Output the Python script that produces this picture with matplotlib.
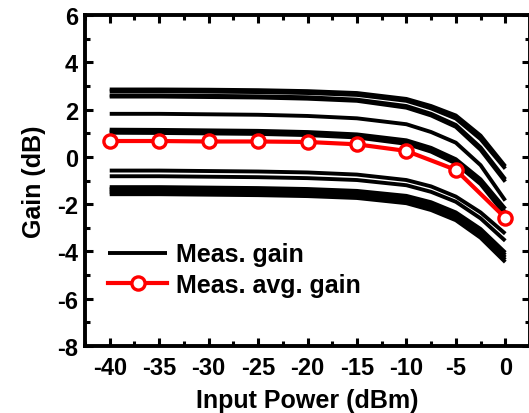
import matplotlib
matplotlib.use("Agg")
import matplotlib.pyplot as plt
from matplotlib.ticker import MultipleLocator

plt.rcParams['font.family'] = ['Liberation Sans', 'DejaVu Sans']
plt.rcParams['font.weight'] = 'bold'

# Input power sweep (dBm) for the individual measured gain curves
power = [-40, -35, -30, -25, -20, -15, -10, -7.5, -5, -2.5, 0]

# Measured gain (dB) of each channel
gain_curves = [
    [2.85, 2.85, 2.84, 2.82, 2.78, 2.70, 2.45, 2.15, 1.75, 0.90, -0.40],
    [2.78, 2.78, 2.76, 2.74, 2.70, 2.62, 2.37, 2.05, 1.62, 0.75, -0.50],
    [2.60, 2.60, 2.58, 2.56, 2.52, 2.42, 2.15, 1.82, 1.35, 0.40, -0.95],
    [2.55, 2.55, 2.53, 2.51, 2.46, 2.37, 2.08, 1.75, 1.27, 0.30, -1.05],
    [1.82, 1.82, 1.80, 1.78, 1.73, 1.63, 1.38, 1.05, 0.60, -0.35, -1.85],
    [1.15, 1.14, 1.12, 1.10, 1.05, 0.95, 0.70, 0.38, -0.10, -0.95, -2.20],
    [1.08, 1.07, 1.05, 1.03, 0.98, 0.88, 0.62, 0.30, -0.20, -1.05, -2.35],
    [1.02, 1.01, 0.99, 0.97, 0.92, 0.82, 0.55, 0.22, -0.28, -1.15, -2.45],
    [-0.58, -0.58, -0.60, -0.62, -0.66, -0.75, -0.98, -1.25, -1.68, -2.35, -3.25],
    [-0.82, -0.82, -0.84, -0.86, -0.90, -0.98, -1.20, -1.48, -1.90, -2.60, -3.55],
    [-1.28, -1.28, -1.30, -1.32, -1.36, -1.44, -1.65, -1.92, -2.35, -3.05, -4.05],
    [-1.35, -1.35, -1.37, -1.39, -1.43, -1.51, -1.73, -2.00, -2.44, -3.15, -4.15],
    [-1.42, -1.42, -1.44, -1.46, -1.50, -1.58, -1.80, -2.08, -2.52, -3.24, -4.25],
    [-1.50, -1.50, -1.52, -1.54, -1.58, -1.66, -1.88, -2.16, -2.60, -3.33, -4.35],
    [-1.58, -1.58, -1.60, -1.62, -1.66, -1.74, -1.96, -2.25, -2.68, -3.42, -4.45],
]

# Average measured gain
avg_power = [-40, -35, -30, -25, -20, -15, -10, -5, 0]
avg_gain = [0.67, 0.67, 0.65, 0.65, 0.63, 0.53, 0.25, -0.55, -2.58]

xticks = [-40, -35, -30, -25, -20, -15, -10, -5, 0]
yticks = [-8, -6, -4, -2, 0, 2, 4, 6]

fig = plt.figure(figsize=(5.29, 4.14), dpi=100)
ax = fig.add_axes([85/529, 1 - 347/414, 445/529, 331/414])

for i, g in enumerate(gain_curves):
    ax.plot(power, g, color='black', lw=2.8, solid_capstyle='butt',
            label='Meas. gain' if i == 0 else None, zorder=2)

ax.plot(avg_power, avg_gain, color='#ff0000', lw=3.0, marker='o',
        markersize=9.5, markerfacecolor='white', markeredgecolor='#ff0000',
        markeredgewidth=2.4, label='Meas. avg. gain', zorder=3)

ax.set_xlim(-42.5, 2.5)
ax.set_ylim(-8, 6)
ax.set_xticks(xticks)
ax.set_yticks(yticks)
ax.set_xticklabels([str(v) for v in xticks])
ax.set_yticklabels([str(v) for v in yticks])
ax.xaxis.set_minor_locator(MultipleLocator(2.5))
ax.yaxis.set_minor_locator(MultipleLocator(1))

ax.tick_params(which='both', direction='in', top=True, right=True,
               width=2.2, labelsize=17)
ax.tick_params(which='major', length=6)
ax.tick_params(which='minor', length=3.5)
ax.tick_params(axis='x', which='major', pad=7)
ax.tick_params(axis='y', which='major', pad=5)

for sp in ax.spines.values():
    sp.set_linewidth(2.8)

ax.set_xlabel('Input Power (dBm)', fontsize=18, fontweight='bold', labelpad=7)
ax.set_ylabel('Gain (dB)', fontsize=18, fontweight='bold', labelpad=8)

leg = ax.legend(loc='upper left', bbox_to_anchor=(0.052, 0.313),
                frameon=False, fontsize=18, handlelength=2.36,
                handletextpad=0.36, labelspacing=0.27, borderpad=0,
                borderaxespad=0)

fig.savefig('out.png', dpi=100)
